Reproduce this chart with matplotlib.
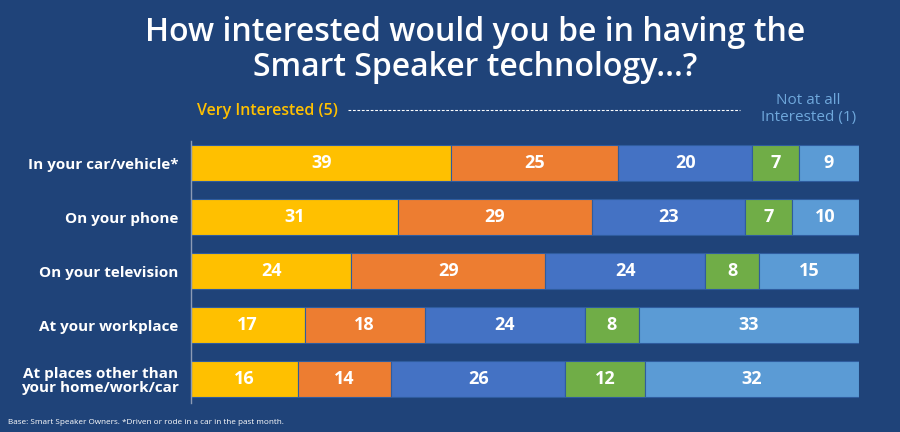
import matplotlib.pyplot as plt

categories = ['In your car/vehicle*', 'On your phone', 'On your television',
              'At your workplace', 'At places other than\nyour home/work/car']
very = [39, 31, 24, 17, 16]
four = [25, 29, 29, 18, 14]
three = [20, 23, 24, 24, 26]
two = [7, 7, 8, 8, 12]
notat = [9, 10, 15, 33, 32]
series = [very, four, three, two, notat]
colors = ['#FFC000', '#ED7D31', '#4472C4', '#70AD47', '#5B9BD5']
bg = '#1F4379'

plt.rcParams['font.family'] = ['Open Sans', 'DejaVu Sans']

fig = plt.figure(figsize=(9, 4.32), dpi=100, facecolor=bg)
ax = fig.add_axes([0.2122, 0.060, 0.7422, 0.625])
ax.set_facecolor(bg)

ypos = range(len(categories))
left = [0] * len(categories)
for vals, col in zip(series, colors):
    bars = ax.barh(ypos, vals, left=left, color=col, height=0.67,
                   edgecolor='#2F5C9E', linewidth=0.8)
    for rect, v in zip(bars, vals):
        ax.text(rect.get_x() + rect.get_width() / 2, rect.get_y() + rect.get_height() / 2,
                str(v), ha='center', va='center', color='white',
                fontsize=13, fontweight='bold')
    left = [l + v for l, v in zip(left, vals)]

ax.set_xlim(0, 100)
ax.set_ylim(4.5, -0.5)
ax.set_yticks(list(ypos))
ax.set_yticklabels(categories, color='white', fontsize=11, fontweight='bold',
                   linespacing=1.05)
ax.tick_params(axis='y', length=0, pad=9)
ax.set_xticks([])
for s in ['top', 'right', 'bottom']:
    ax.spines[s].set_visible(False)
ax.spines['left'].set_color('#8C9BB5')
ax.spines['left'].set_linewidth(1)
ax.spines['left'].set_bounds(4.45, -0.4)

fig.text(0.528, 0.884, 'How interested would you be in having the\nSmart Speaker technology...?',
         ha='center', va='center', color='white', fontsize=23, fontweight='semibold',
         linespacing=1.1)

fig.text(0.219, 0.743, 'Very Interested (5)', ha='left', va='center',
         color='#FFC000', fontsize=11.5, fontweight='semibold')
fig.lines.append(plt.Line2D([0.387, 0.822], [0.745, 0.745], transform=fig.transFigure,
                            color='white', linewidth=0.8, linestyle=(0, (2.5, 1.5))))
fig.text(0.898, 0.747, 'Not at all\nInterested (1)', ha='center', va='center',
         color='#6FA8DC', fontsize=11, linespacing=1.15)

fig.text(0.009, 0.023, 'Base: Smart Speaker Owners. *Driven or rode in a car in the past month.',
         ha='left', va='center', color='white', fontsize=5.9)

fig.savefig('out.png', dpi=100, facecolor=bg)
